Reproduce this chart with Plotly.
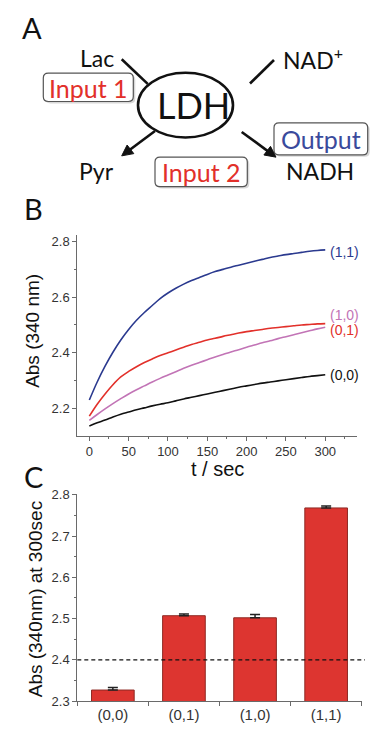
import math
import plotly.graph_objects as go

# ---------------- data ----------------
time_s = [0, 10, 20, 30, 40, 50, 60, 70, 80, 90, 100, 110, 120, 130, 140, 150,
          160, 170, 180, 190, 200, 210, 220, 230, 240, 250, 260, 270, 280, 290, 300]
abs_11 = [2.230, 2.295, 2.352, 2.402, 2.446, 2.484, 2.517, 2.545, 2.570, 2.595, 2.615,
          2.632, 2.647, 2.660, 2.671, 2.682, 2.692, 2.700, 2.708, 2.715, 2.722,
          2.729, 2.736, 2.743, 2.748, 2.753, 2.757, 2.761, 2.765, 2.768, 2.770]
abs_01 = [2.172, 2.215, 2.252, 2.285, 2.313, 2.333, 2.350, 2.365, 2.378, 2.390, 2.400,
          2.410, 2.420, 2.430, 2.438, 2.446, 2.452, 2.459, 2.465, 2.471, 2.476,
          2.480, 2.484, 2.488, 2.491, 2.494, 2.497, 2.500, 2.502, 2.504, 2.505]
abs_10 = [2.157, 2.178, 2.198, 2.217, 2.235, 2.252, 2.267, 2.281, 2.295, 2.308, 2.320,
          2.332, 2.344, 2.355, 2.365, 2.375, 2.385, 2.394, 2.403, 2.411, 2.420,
          2.428, 2.436, 2.443, 2.451, 2.458, 2.465, 2.472, 2.479, 2.486, 2.492]
abs_00 = [2.137, 2.148, 2.158, 2.169, 2.179, 2.187, 2.195, 2.202, 2.209, 2.215, 2.220,
          2.227, 2.234, 2.240, 2.246, 2.252, 2.258, 2.264, 2.270, 2.276, 2.281,
          2.286, 2.291, 2.295, 2.299, 2.303, 2.307, 2.311, 2.315, 2.318, 2.321]

bar_labels = ["(0,0)", "(0,1)", "(1,0)", "(1,1)"]
bar_values = [2.327, 2.507, 2.502, 2.768]
bar_errors = [0.006, 0.004, 0.008, 0.005]
threshold = 2.4

# ---------------- helpers ----------------
W, H = 385, 756
def px(x):
    return x / W
def py(y):
    return 1 - y / H

AX = "Liberation Sans"
DG = "Lato"
BLUE = "#2b3a8f"
RED = "#e2302a"
PINK = "#c274b6"
AXC = "#6a6a6a"
TXT = "#333333"

fig = go.Figure()

for ys, col in [(abs_00, "#111111"), (abs_10, PINK), (abs_01, RED), (abs_11, BLUE)]:
    fig.add_trace(go.Scatter(x=time_s, y=ys, mode="lines",
                             line=dict(color=col, width=1.6, shape="spline", smoothing=1.0),
                             xaxis="x", yaxis="y", showlegend=False))

fig.add_trace(go.Bar(x=bar_labels, y=bar_values, width=0.6,
                     marker=dict(color="#dd3530", line=dict(color="#8e2a24", width=1)),
                     error_y=dict(type="data", array=bar_errors, arrayminus=[0, 0, 0, 0],
                                  symmetric=False, color="#222222", thickness=1.5, width=5),
                     xaxis="x2", yaxis="y2", showlegend=False))

axis_common = dict(showgrid=False, zeroline=False, showline=True, linecolor=AXC, linewidth=1,
                   ticks="outside", ticklen=4, tickcolor=AXC, tickwidth=1,
                   tickfont=dict(family=AX, size=13, color=TXT))

fig.update_layout(
    width=W, height=H, autosize=False,
    margin=dict(l=0, r=0, t=0, b=0),
    paper_bgcolor="white", plot_bgcolor="white",
    showlegend=False,
    xaxis=dict(domain=[px(77.3), px(356.7)], range=[-15.3, 340], anchor="y",
               tick0=0, dtick=50, ticklabelstandoff=0,
               minor=dict(ticks="outside", ticklen=2.5, dtick=25, tickcolor=AXC),
               **axis_common),
    yaxis=dict(domain=[py(437.7), py(233.3)], range=[2.1022, 2.8237], anchor="x",
               tick0=2.2, dtick=0.2, tickformat=".1f",
               minor=dict(ticks="outside", ticklen=2.5, dtick=0.1, tickcolor=AXC),
               **axis_common),
    xaxis2=dict(domain=[px(77.3), px(361.7)], range=[-0.5, 3.5], anchor="y2",
                type="category", tickson="boundaries",
                showgrid=False, zeroline=False, showline=True, linecolor=AXC, linewidth=1,
                ticks="outside", ticklen=4, tickcolor=AXC,
                tickfont=dict(family=AX, size=15, color=TXT)),
    yaxis2=dict(domain=[py(708.3), py(496.7)], range=[2.3, 2.803], anchor="x2",
                tick0=2.3, dtick=0.1, tickformat=".1f",
                minor=dict(ticks="outside", ticklen=2.5, dtick=0.05, tickcolor=AXC),
                **axis_common),
)

# threshold line in panel C
fig.add_shape(type="line", xref="paper", yref="y2", x0=px(77.3), x1=px(365),
              y0=threshold, y1=threshold, line=dict(color="#111111", width=1.2, dash="4px,3px"))

annotations = []

def ptext(text, x, y, size, color="#111111", family=DG, xanchor="center", angle=0):
    annotations.append(dict(text=text, x=px(x), y=py(y), xref="paper", yref="paper",
                            showarrow=False, xanchor=xanchor, yanchor="middle", textangle=angle,
                            font=dict(family=family, size=size, color=color)))

# panel letters
ptext("A", 32, 22, 29, family=DG)
ptext("B", 33, 206, 29, family=DG)
ptext("C", 33, 479, 29, family=DG)

# axis titles
ptext("t / sec", 217.5, 472, 20, color="#111111", family=AX)
ptext("Abs (340 nm)", 33, 331, 19, color="#111111", family=AX, angle=-90)
ptext("Abs (340nm) at 300sec", 35.5, 605, 19, color="#111111", family=AX, angle=-90)

# curve labels
for txt, yv, col in [("(1,1)", 2.763, BLUE), ("(1,0)", 2.535, PINK),
                     ("(0,1)", 2.482, RED), ("(0,0)", 2.319, "#111111")]:
    annotations.append(dict(text=txt, x=304, y=yv, xref="x", yref="y", showarrow=False,
                            xanchor="left", yanchor="middle",
                            font=dict(family=AX, size=14, color=col)))

# ---------------- panel A diagram ----------------
def path_from(points_cmds):
    s = ""
    for cmd, ps in points_cmds:
        s += cmd + " " + " ".join(f"{px(a):.5f},{py(b):.5f}" for a, b in ps) + " "
    return s + "Z"

def rrect_path(x0, y0, x1, y1, r):
    return path_from([
        ("M", [(x0 + r, y0)]),
        ("L", [(x1 - r, y0)]),
        ("Q", [(x1, y0), (x1, y0 + r)]),
        ("L", [(x1, y1 - r)]),
        ("Q", [(x1, y1), (x1 - r, y1)]),
        ("L", [(x0 + r, y1)]),
        ("Q", [(x0, y1), (x0, y1 - r)]),
        ("L", [(x0, y0 + r)]),
        ("Q", [(x0, y0), (x0 + r, y0)]),
    ])

boxes = [
    ("Input 1", 43.3, 68.3, 133.3, 97.3, RED),
    ("Output", 274.0, 119.0, 367.7, 151.7, "#3a4a9c"),
    ("Input 2", 155.0, 154.0, 247.3, 184.0, RED),
]
for label, x0, y0, x1, y1, col in boxes:
    fig.add_shape(type="path", xref="paper", yref="paper",
                  path=rrect_path(x0 + 2, y0 + 2, x1 + 2, y1 + 2, 5),
                  fillcolor="#d8d8d8", line=dict(width=0))
    fig.add_shape(type="path", xref="paper", yref="paper",
                  path=rrect_path(x0, y0, x1, y1, 5),
                  fillcolor="white", line=dict(color="#555555", width=1.2))
    ptext(label, (x0 + x1) / 2, (y0 + y1) / 2 + 0.5, 25, color=col)

# substrate lines
fig.add_shape(type="line", xref="paper", yref="paper", x0=px(121.7), y0=py(54.3),
              x1=px(147.7), y1=py(79.3), line=dict(color="#111111", width=2.6))
fig.add_shape(type="line", xref="paper", yref="paper", x0=px(274), y0=py(55),
              x1=px(250), y1=py(79), line=dict(color="#111111", width=2.6))

# enzyme ellipse
fig.add_shape(type="circle", xref="paper", yref="paper", x0=px(138), x1=px(233),
              y0=py(134), y1=py(68), fillcolor="white", line=dict(color="#111111", width=2.6))

# product arrows (line + filled head)
for tipx, tipy, tailx, taily in [(121.7, 152.7, 155.0, 127.3), (276.0, 154.0, 241.7, 128.3)]:
    dx, dy = tipx - tailx, tipy - taily
    L = math.hypot(dx, dy)
    ux, uy = dx / L, dy / L
    nx, ny = -uy, ux
    hl, hw = 11.0, 5.5
    bx, by = tipx - hl * ux, tipy - hl * uy
    fig.add_shape(type="line", xref="paper", yref="paper", x0=px(tailx), y0=py(taily),
                  x1=px(bx + 2 * ux), y1=py(by + 2 * uy), line=dict(color="#111111", width=2.6))
    fig.add_shape(type="path", xref="paper", yref="paper",
                  path=path_from([("M", [(tipx, tipy)]),
                                  ("L", [(bx + hw * nx, by + hw * ny)]),
                                  ("L", [(bx - hw * nx, by - hw * ny)])]),
                  fillcolor="#111111", line=dict(color="#111111", width=1))

ptext("LDH", 193.5, 101, 36)
ptext("Lac", 97.5, 53, 23)
ptext("NAD<sup>+</sup>", 313, 53, 23)
ptext("Pyr", 97, 168, 23)
ptext("NADH", 320, 168, 23)

fig.update_layout(annotations=annotations)

fig.write_html("out.html", config={"displayModeBar": False},
               post_script="document.body.style.margin='0';")
